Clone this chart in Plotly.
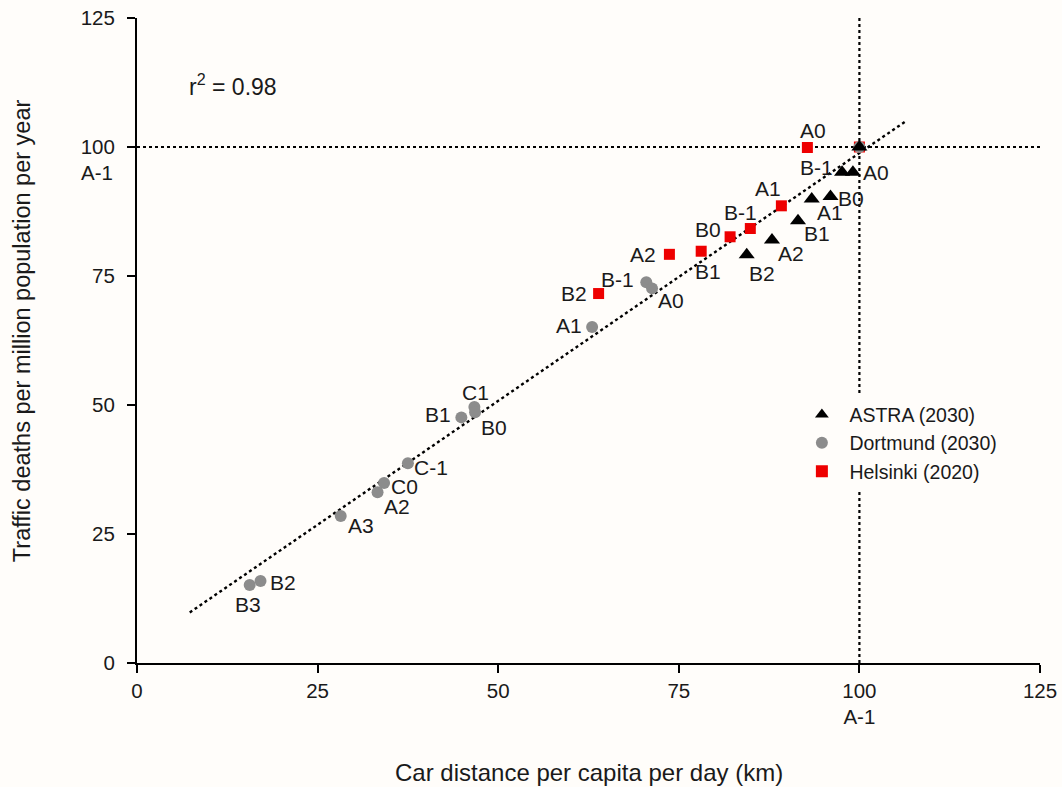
import numpy as np
import plotly.graph_objects as go

# ASTRA (2030) scenarios
astra_names = ["A-1", "B-1", "A0", "A1", "B0", "B1", "A2", "B2"]
astra_x = [100.0, 97.6, 99.1, 93.4, 96.0, 91.5, 87.9, 84.4]
astra_y = [100.0, 95.1, 95.1, 89.9, 90.4, 85.7, 82.0, 79.1]

# Dortmund (2030) scenarios
dort_names = ["A-1", "B-1", "A0", "A1", "C1", "B0", "B1", "C-1", "C0", "A2", "A3", "B2", "B3"]
dort_x = [100.0, 70.5, 71.3, 63.0, 46.7, 46.8, 44.9, 37.5, 34.2, 33.3, 28.2, 17.1, 15.6]
dort_y = [100.0, 73.8, 72.6, 65.1, 49.6, 48.6, 47.6, 38.7, 34.9, 33.1, 28.5, 15.9, 15.1]

# Helsinki (2020) scenarios
hel_names = ["A-1", "A0", "A1", "B-1", "B0", "B1", "A2", "B2"]
hel_x = [100.0, 92.8, 89.2, 84.9, 82.1, 78.1, 73.7, 63.9]
hel_y = [100.0, 99.9, 88.6, 84.2, 82.6, 79.8, 79.2, 71.6]

# extent of the fitted line
trend_x = [7.3, 106.3]

axis_ticks = [0, 25, 50, 75, 100, 125]

FONT = "Liberation Sans, Arial, sans-serif"
BG = "#fffdfa"
INK = "#1a1a1a"

# least-squares line through all scenarios
all_x = np.array(astra_x + dort_x[1:] + hel_x[1:])
all_y = np.array(astra_y + dort_y[1:] + hel_y[1:])
slope, intercept = np.polyfit(all_x, all_y, 1)
r2 = np.corrcoef(all_x, all_y)[0, 1] ** 2
trend_y = [slope * v + intercept for v in trend_x]

fig = go.Figure()

fig.add_trace(go.Scatter(
    x=trend_x, y=trend_y, mode="lines", showlegend=False, hoverinfo="skip",
    line=dict(color="black", width=2.4, dash="dot"),
))
fig.add_trace(go.Scatter(
    x=hel_x, y=hel_y, mode="markers", name="Helsinki (2020)", text=hel_names,
    marker=dict(symbol="square", size=11, color="#ee0000"), legendrank=3,
))
fig.add_trace(go.Scatter(
    x=dort_x, y=dort_y, mode="markers", name="Dortmund (2030)", text=dort_names,
    marker=dict(symbol="circle", size=12, color="#8c8c8c"), legendrank=2,
))
fig.add_trace(go.Scatter(
    x=astra_x, y=astra_y, mode="markers", name="ASTRA (2030)", text=astra_names,
    marker=dict(symbol="triangle-up", size=14, color="black"), legendrank=1,
))

# reference lines through the A-1 base case
fig.add_shape(type="line", x0=0, x1=125, y0=100, y1=100, xref="x", yref="y",
              line=dict(color="black", width=2.2, dash="dot"), layer="below")
fig.add_shape(type="line", x0=100, x1=100, y0=0, y1=125, xref="x", yref="y",
              line=dict(color="black", width=2.2, dash="dot"), layer="below")

# point labels: offsets in pixels from each marker
label_offsets = {
    "hel": {"A0": (6, 17), "A1": (-13, 17), "B-1": (-10, 16), "B0": (-22, 7),
            "B1": (7, -20), "A2": (-26, 0), "B2": (-25, 0)},
    "astra": {"B-1": (-26, 5), "A0": (23, 0), "B0": (20, -2), "A1": (18, -13),
              "B1": (19, -13), "A2": (19, -14), "B2": (15, -19)},
    "dort": {"B-1": (-29, 3), "A0": (19, -12), "A1": (-23, 2), "C1": (1, 15),
             "B0": (19, -15), "B1": (-23, 3), "C-1": (23, -4), "C0": (20, -4),
             "A2": (19, -14), "A3": (20, -10), "B2": (22, -2), "B3": (-2, -19)},
}
series = {
    "hel": (hel_names, hel_x, hel_y),
    "astra": (astra_names, astra_x, astra_y),
    "dort": (dort_names, dort_x, dort_y),
}
for key, (names, xs, ys) in series.items():
    for n, xv, yv in zip(names, xs, ys):
        if n not in label_offsets[key]:
            continue
        dx, dy = label_offsets[key][n]
        fig.add_annotation(x=xv, y=yv, text=n, showarrow=False,
                           xshift=dx, yshift=dy,
                           font=dict(family=FONT, size=21, color=INK))

fig.add_annotation(x=13.3, y=112, text="r<sup>2</sup> = %.2f" % r2, showarrow=False,
                   font=dict(family=FONT, size=23, color=INK))
# base case marker on the y axis
fig.add_annotation(xref="paper", yref="y", x=0, y=100, text="A-1", showarrow=False,
                   xanchor="right", xshift=-22, yshift=-25,
                   font=dict(family=FONT, size=20.5, color=INK))

# axis titles
fig.add_annotation(xref="paper", yref="paper", x=0.5, y=-0.169, text="Car distance per capita per day (km)",
                   showarrow=False, xanchor="center", yanchor="middle",
                   font=dict(family=FONT, size=24, color=INK))
fig.add_annotation(xref="paper", yref="paper", x=-0.127, y=0.515,
                   text="Traffic deaths per million population per year",
                   textangle=-90, showarrow=False, xanchor="center", yanchor="middle",
                   font=dict(family=FONT, size=23.5, color=INK))

fig.update_layout(
    width=1062, height=787,
    margin=dict(l=137, r=22, t=18, b=124, autoexpand=False),
    paper_bgcolor=BG, plot_bgcolor=BG,
    font=dict(family=FONT, size=21, color=INK),
    showlegend=True,
    legend=dict(x=0.728, y=0.415, xanchor="left", yanchor="top",
                bgcolor=BG, font=dict(family=FONT, size=19.5, color=INK),
                itemsizing="constant", itemwidth=45, tracegroupgap=0),
    xaxis=dict(
        range=[0, 125], tickvals=axis_ticks,
        ticktext=["0", "25", "50", "75", "100<br>A-1", "125"],
        showgrid=False, zeroline=False, showline=True, linecolor="black", linewidth=2,
        ticks="outside", ticklen=8, tickwidth=2, tickcolor="black", automargin=False,
        tickfont=dict(family=FONT, size=20.5, color=INK),
    ),
    yaxis=dict(
        range=[0, 125], tickvals=axis_ticks,
        ticktext=[str(t) for t in axis_ticks],
        showgrid=False, zeroline=False, showline=True, linecolor="black", linewidth=2,
        ticks="outside", ticklen=8, tickwidth=2, tickcolor="black", automargin=False,
        tickfont=dict(family=FONT, size=20.5, color=INK), ticklabelstandoff=8,
    ),
)

fig.write_html("out.html")
